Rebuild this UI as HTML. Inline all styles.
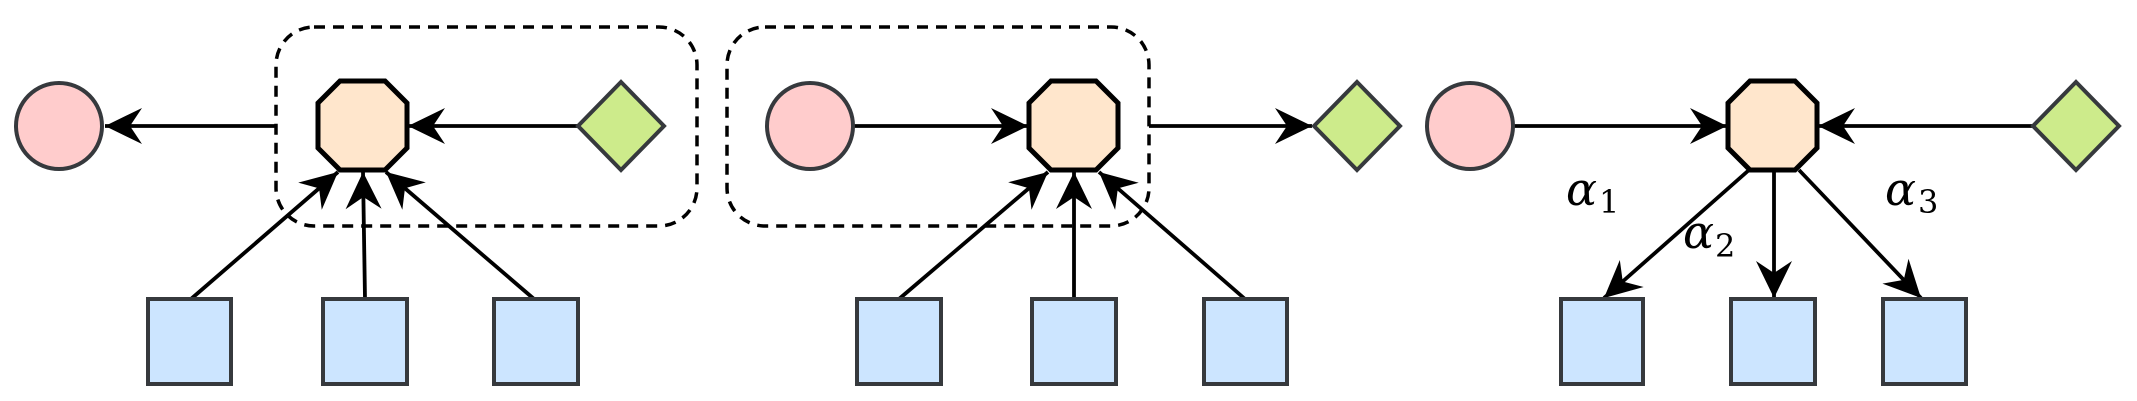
<!DOCTYPE html>
<html><head><meta charset="utf-8"><style>
html,body{margin:0;padding:0;background:#fff;}
svg{display:block;}
text{font-family:"DejaVu Serif","Liberation Serif",serif;fill:#000;}
</style></head><body>
<svg width="2137" height="401" viewBox="0 0 2137 401" xmlns="http://www.w3.org/2000/svg">
<defs>
<marker id="a" markerUnits="userSpaceOnUse" markerWidth="40" markerHeight="40" viewBox="-38 -19 40 38" refX="0" refY="0" orient="auto">
<path d="M0,0 L-37,-18 L-25,0 L-37,18 Z" fill="#000"/>
</marker>
</defs>
<g fill="none" stroke="#000" stroke-width="3.5" stroke-dasharray="11,8">
<rect x="276" y="27" width="421" height="199" rx="38"/>
<rect x="727" y="27" width="422" height="199" rx="38"/>
</g>
<g stroke="#000" stroke-width="3.8" fill="none" marker-end="url(#a)">
<line x1="276" y1="126" x2="105" y2="126"/>
<line x1="578" y1="126" x2="408" y2="126"/>
<line x1="191" y1="299" x2="338" y2="172"/>
<line x1="365" y1="299" x2="363" y2="172"/>
<line x1="534" y1="299" x2="386" y2="172"/>
<line x1="854" y1="126" x2="1028" y2="126"/>
<line x1="1149" y1="126" x2="1312" y2="126"/>
<line x1="899" y1="299" x2="1048" y2="172"/>
<line x1="1074" y1="299" x2="1074" y2="172"/>
<line x1="1245" y1="299" x2="1099" y2="172"/>
<line x1="1513" y1="126" x2="1727" y2="126"/>
<line x1="2033" y1="126" x2="1818" y2="126"/>
<line x1="1749" y1="170" x2="1604" y2="298"/>
<line x1="1774" y1="170" x2="1774" y2="298"/>
<line x1="1799" y1="170" x2="1921" y2="298"/>
</g>
<g stroke="#36393d" stroke-width="4">
<ellipse cx="59" cy="126" rx="43" ry="43" fill="#ffcccc"/>
<ellipse cx="810" cy="126" rx="43" ry="43" fill="#ffcccc"/>
<ellipse cx="1470" cy="126" rx="43" ry="43" fill="#ffcccc"/>
<polygon points="621,82 664,126 621,170 578,126" fill="#cdeb8b"/>
<polygon points="1357,82 1400,126 1357,170 1314,126" fill="#cdeb8b"/>
<polygon points="2076,82 2119,126 2076,170 2033,126" fill="#cdeb8b"/>
<rect x="148" y="299" width="83" height="85" fill="#cce5ff"/>
<rect x="323" y="299" width="84" height="85" fill="#cce5ff"/>
<rect x="494" y="299" width="84" height="85" fill="#cce5ff"/>
<rect x="857" y="299" width="84" height="85" fill="#cce5ff"/>
<rect x="1032" y="299" width="84" height="85" fill="#cce5ff"/>
<rect x="1204" y="299" width="83" height="85" fill="#cce5ff"/>
<rect x="1561" y="299" width="82" height="85" fill="#cce5ff"/>
<rect x="1731" y="299" width="84" height="85" fill="#cce5ff"/>
<rect x="1883" y="299" width="83" height="85" fill="#cce5ff"/>
</g>
<g stroke="#000" stroke-width="5" fill="#ffe6cc">
<polygon points="340,81 385,81 407,103 407,148 385,170 340,170 318,148 318,103"/>
<polygon points="1051,81 1096,81 1118,103 1118,148 1096,170 1051,170 1029,148 1029,103"/>
<polygon points="1750,81 1795,81 1817,103 1817,148 1795,170 1750,170 1728,148 1728,103"/>
</g>
<text x="1566" y="205" font-size="46" font-style="italic">α</text><text x="1599" y="213" font-size="32">1</text>
<text x="1683" y="248" font-size="46" font-style="italic">α</text><text x="1715" y="257" font-size="32">2</text>
<text x="1885" y="205" font-size="46" font-style="italic">α</text><text x="1918" y="213" font-size="32">3</text>
</svg>
</body></html>
